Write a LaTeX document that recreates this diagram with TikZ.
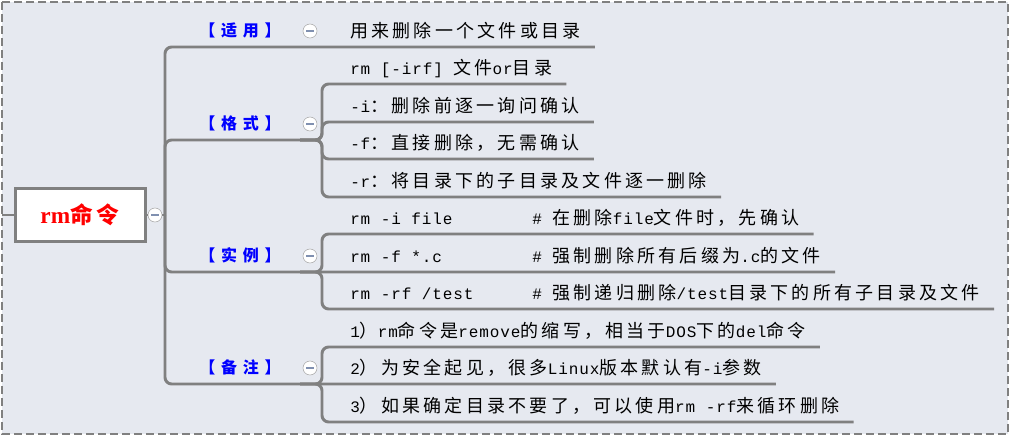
\documentclass[tikz,border=0pt]{standalone}
\usepackage{fontspec}
\usepackage{tikz}
\usetikzlibrary{shapes,arrows,calc}
\setmainfont{Liberation Mono}[LetterSpace=5.6]
\newfontfamily\zh{Noto Sans CJK SC}[LetterSpace=18]
\newfontfamily\zhcat{Noto Sans CJK SC}[LetterSpace=36]
\newfontfamily\rootfont{Liberation Serif}
\newcommand{\z}[1]{{\zh\fontsize{13.5}{16}\selectfont #1}}
\definecolor{bgcol}{HTML}{E6E9F0}
\definecolor{linecol}{HTML}{808080}
\definecolor{minuscol}{HTML}{8090B0}
\tikzstyle{branch} = [draw=linecol, line width=2.2pt, rounded corners=5pt]
\tikzstyle{rootbox} = [draw=linecol, line width=2.25pt, fill=white, rectangle, text centered, minimum width=97.5pt, minimum height=39.75pt]
\tikzstyle{cat} = [text=blue, font=\zhcat\bfseries\fontsize{12}{14}\selectfont]
\tikzstyle{leaf} = [anchor=base west, inner sep=0pt, font=\fontsize{12}{14}\selectfont]
\tikzstyle{fold} = [circle, draw=gray!70, fill=white, minimum size=10.5pt, inner sep=0pt,
    path picture={\draw[minuscol, line width=0.8pt] ([xshift=2.5pt]path picture bounding box.west) -- ([xshift=-2.5pt]path picture bounding box.east);}]

\begin{document}
\begin{tikzpicture}[x=0.75pt, y=-0.75pt]
        % frame
        \fill[white] (0,0) rectangle (1011,436);
        \fill[bgcol] (2,2) rectangle (1008,434);
        \draw[linecol, line width=1.5pt, dash pattern=on 6pt off 3pt] (2,2) rectangle (1008,434);

        \node[rootbox] (root) at (80,215) {\color{red}{\rootfont\bfseries\fontsize{17.5}{20}\selectfont rm}{\zh\bfseries\fontsize{17}{20}\selectfont 命令}};
        \coordinate (edge) at (2,215);
        \coordinate (trunk) at (165,215);

        % categories
        \node[cat] (c1) at (240,30) {【适用】};
        \node[cat] (c2) at (240,123) {【格式】};
        \node[cat] (c3) at (240,255) {【实例】};
        \node[cat] (c4) at (240,367) {【备注】};
        \coordinate (k2) at (300,140);
        \coordinate (k3) at (300,272);
        \coordinate (k4) at (300,384);

        % leaves
        \node[leaf] (a1) at (350,37) {\z{用来删除一个文件或目录}};
        \node[leaf] (g1) at (350,74) {rm [-irf] \z{文件}or\z{目录}};
        \node[leaf] (g2) at (350,112) {-i\z{：删除前逐一询问确认}};
        \node[leaf] (g3) at (350,149) {-f\z{：直接删除，无需确认}};
        \node[leaf] (g4) at (350,187) {-r\z{：将目录下的子目录及文件逐一删除}};
        \node[leaf] (e1) at (350,224) {\makebox[136.5pt][l]{rm -i file}\# \z{在删除}file\z{文件时，先确认}};
        \node[leaf] (e2) at (350,262) {\makebox[136.5pt][l]{rm -f *.c}\# \z{强制删除所有后缀为}.c\z{的文件}};
        \node[leaf] (e3) at (350,299) {\makebox[136.5pt][l]{rm -rf /test}\# \z{强制递归删除}/test\z{目录下的所有子目录及文件}};
        \node[leaf] (n1) at (350,337) {1\z{）}rm\z{命令是}remove\z{的缩写，相当于}DOS\z{下的}del\z{命令}};
        \node[leaf] (n2) at (350,374) {2\z{）为安全起见，很多}Linux\z{版本默认有}-i\z{参数}};
        \node[leaf] (n3) at (350,412) {3\z{）如果确定目录不要了，可以使用}rm -rf\z{来循环删除}};

        % connectors
        \path[branch] (edge) -- (root.west);
        \path[branch] (root.east) -- (trunk);
        \path[branch] (trunk) |- ([shift={(14,10)}]a1.base east);
        \path[branch] (trunk) |- (k2);
        \path[branch] (trunk) |- ([shift={(14,10)}]e2.base east);
        \path[branch] (trunk) |- ([shift={(14,10)}]n2.base east);
        \path[branch] (k2) -- ++(22,0) |- ([shift={(14,10)}]g1.base east);
        \path[branch] (k2) -- ++(22,0) |- ([shift={(14,10)}]g2.base east);
        \path[branch] (k2) -- ++(22,0) |- ([shift={(14,10)}]g3.base east);
        \path[branch] (k2) -- ++(22,0) |- ([shift={(14,10)}]g4.base east);
        \path[branch] (k3) -- ++(22,0) |- ([shift={(14,10)}]e1.base east);
        \path[branch] (k3) -- ++(22,0) |- ([shift={(14,10)}]e3.base east);
        \path[branch] (k4) -- ++(22,0) |- ([shift={(14,10)}]n1.base east);
        \path[branch] (k4) -- ++(22,0) |- ([shift={(14,10)}]n3.base east);

        % fold buttons
        \node[fold] (rootfold) at (155,215) {};
        \node[fold] (f1) at (310,31) {};
        \node[fold] (f2) at (310,124) {};
        \node[fold] (f3) at (310,256) {};
        \node[fold] (f4) at (310,368) {};
    \end{tikzpicture}
\end{document}
